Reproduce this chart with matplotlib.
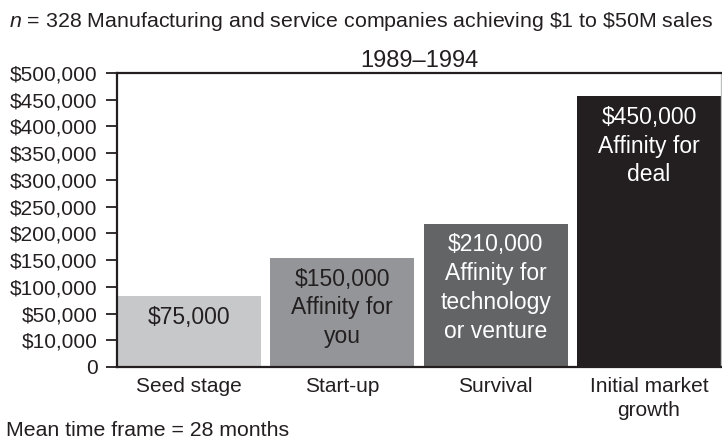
import numpy as np
import matplotlib
matplotlib.use("Agg")
import matplotlib.pyplot as plt

plt.rcParams['font.family'] = ['Liberation Sans', 'DejaVu Sans']
plt.rcParams['mathtext.fontset'] = 'custom'
plt.rcParams['mathtext.it'] = 'Liberation Sans:italic'
plt.rcParams['mathtext.rm'] = 'Liberation Sans'

# data
stages = ["Seed stage", "Start-up", "Survival", "Initial market\ngrowth"]
heights = [83000, 154000, 218000, 457000]   # drawn bar heights
bar_text = ["$75,000",
            "$150,000\nAffinity for\nyou",
            "$210,000\nAffinity for\ntechnology\nor venture",
            "$450,000\nAffinity for\ndeal"]
tick_vals = [0, 10000, 50000, 100000, 150000, 200000, 250000,
             300000, 350000, 400000, 450000, 500000]
tick_labels = ["0", "$10,000", "$50,000", "$100,000", "$150,000", "$200,000",
               "$250,000", "$300,000", "$350,000", "$400,000", "$450,000",
               "$500,000"]

bar_colors = ["#c7c8ca", "#939598", "#636466", "#231f20"]
text_colors = ["#231f20", "#231f20", "white", "white"]

# ticks are evenly spaced though the values are not
pos = np.arange(len(tick_vals), dtype=float)


def fwd(v):
    return np.interp(v, tick_vals, pos)


def inv(p):
    return np.interp(p, pos, tick_vals)


fig = plt.figure(figsize=(7.22, 4.40), dpi=100)
ax = fig.add_axes([0.162, 0.166, 0.8366, 0.668])
ax.set_yscale('function', functions=(fwd, inv))

x = np.arange(len(stages))
w = 0.94
ax.bar(x, heights, width=w, color=bar_colors, edgecolor='none', zorder=2)
for i in range(len(stages)):
    ax.annotate(bar_text[i], (x[i], heights[i]), xytext=(0, -7),
                textcoords='offset points', ha='center', va='top',
                fontsize=16.5, color=text_colors[i], linespacing=1.32)

ax.set_xlim(-w / 2, len(stages) - 1 + w / 2)
ax.set_ylim(0, 500000)
ax.set_yticks(tick_vals)
ax.set_yticklabels(tick_labels)
ax.set_xticks(x)
ax.set_xticklabels(stages, linespacing=1.35)
ax.tick_params(axis='y', length=8, width=1.3, labelsize=15, color='#231f20',
               labelcolor='#231f20', pad=6)
ax.tick_params(axis='x', length=0, labelsize=15, labelcolor='#231f20', pad=7)

for s in ['left', 'bottom', 'top']:
    ax.spines[s].set_linewidth(1.6)
    ax.spines[s].set_color('#231f20')
ax.spines['right'].set_linewidth(1.0)
ax.spines['right'].set_color('#bcbec0')

ax.set_title("1989–1994", fontsize=17, color='#231f20', pad=4)
fig.text(0.5, 0.952, r"$n$ = 328 Manufacturing and service companies achieving \$1 to \$50M sales",
         ha='center', va='center', fontsize=15.4, color='#231f20')
fig.text(0.008, 0.022, "Mean time frame = 28 months", ha='left', va='center',
         fontsize=15.3, color='#231f20')

fig.savefig("out.png", dpi=100)
